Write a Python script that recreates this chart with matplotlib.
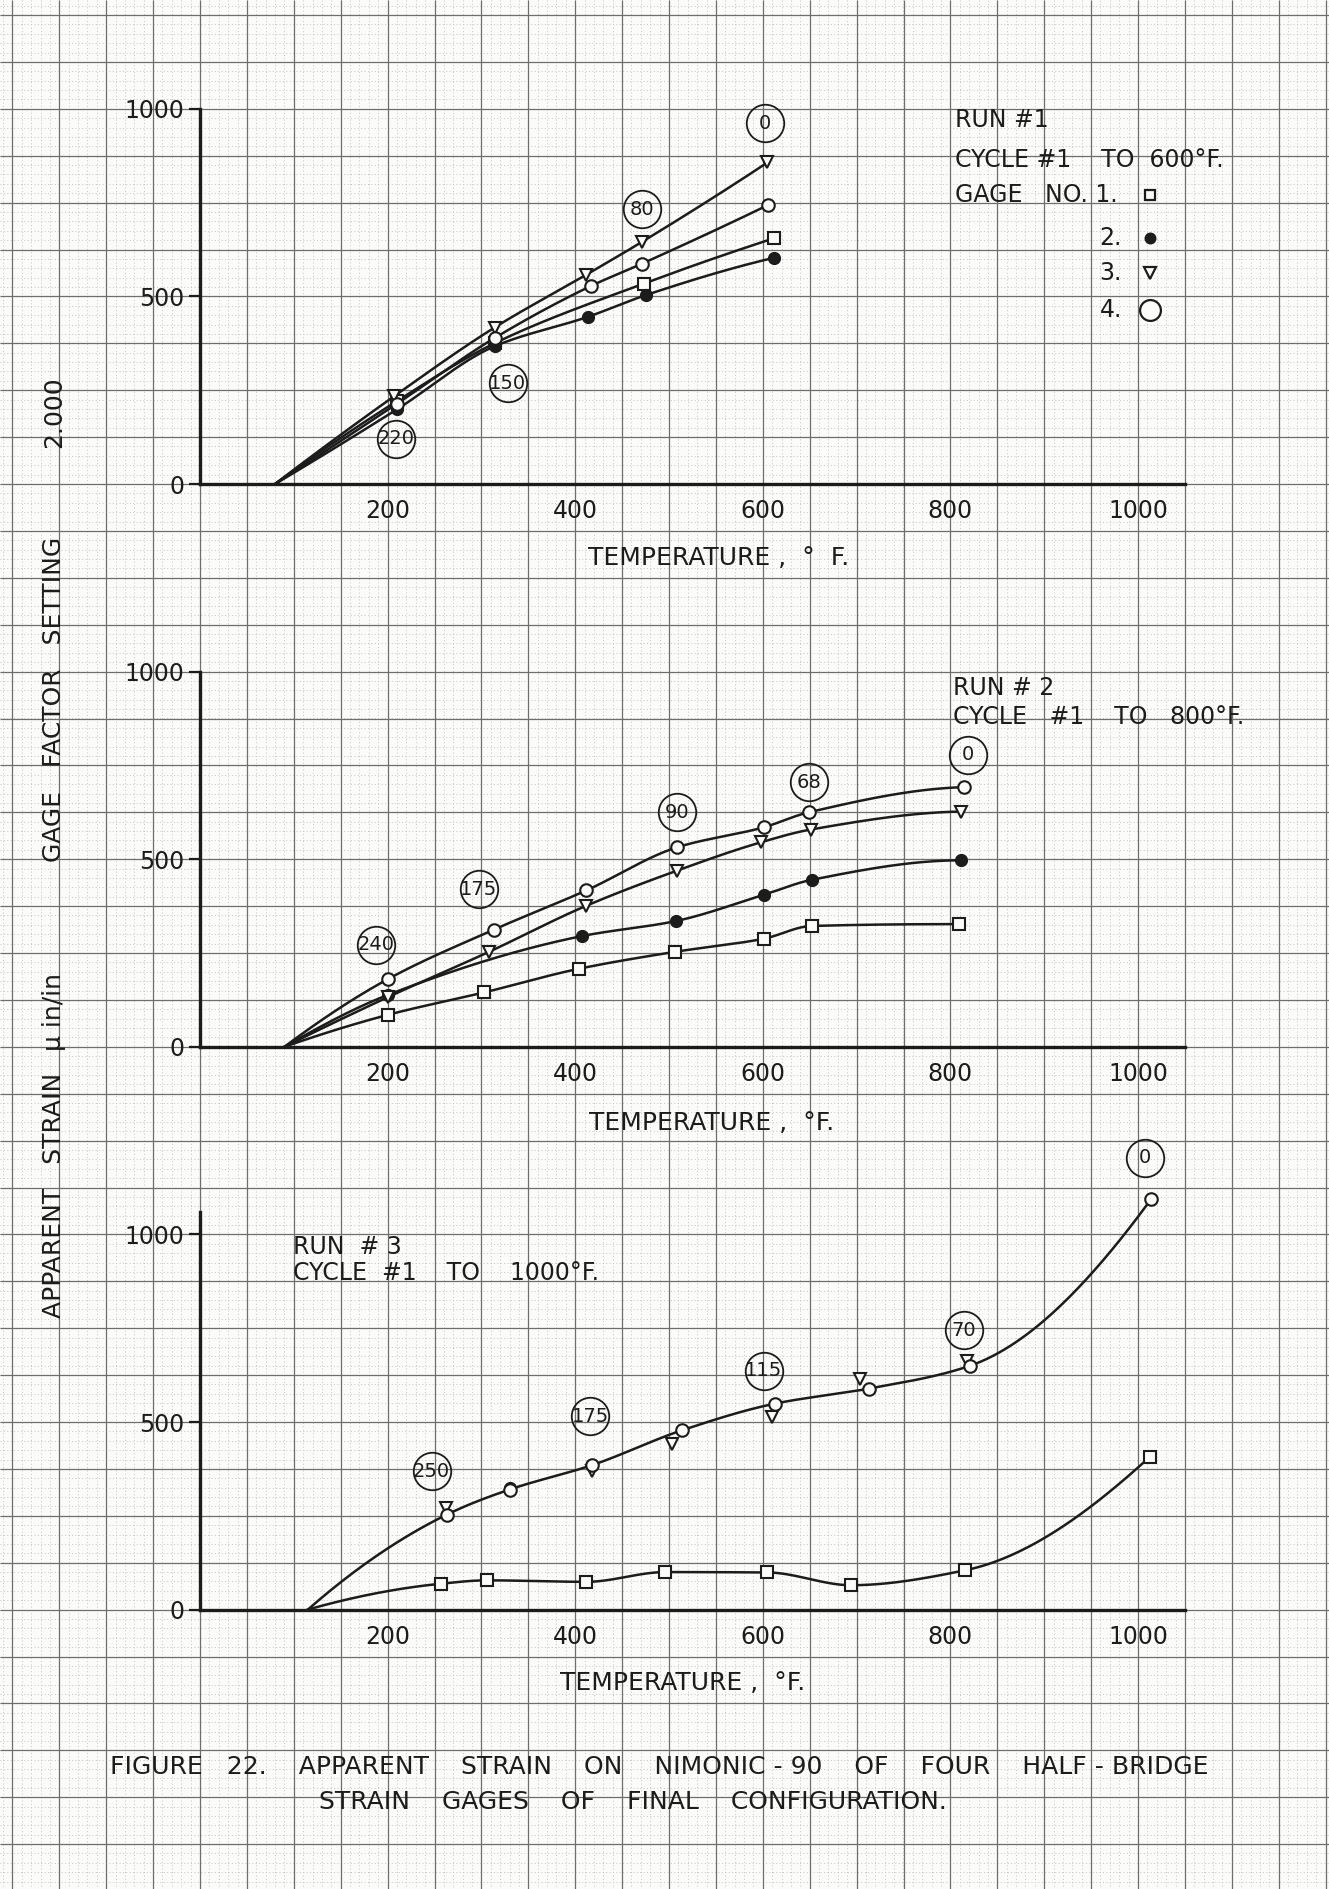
import numpy as np
import matplotlib
matplotlib.use("Agg")
import matplotlib.pyplot as plt

plt.rcParams['font.family'] = ['DejaVu Sans']

INK = '#1c1c1c'
PAPER = '#fbfbfa'

# ---- data (temperature in deg F, apparent strain in micro in/in) ----
# run 1, cycle 1 to 600 F
run1_start = 80
run1_g1_t = [210, 314, 473, 612]
run1_g1_s = [221, 375, 534, 655]
run1_g2_t = [210, 314, 414, 476, 612]
run1_g2_s = [199, 367, 446, 504, 603]
run1_g3_t = [207, 314, 412, 471, 605]
run1_g3_s = [234, 417, 558, 645, 857]
run1_g4_t = [210, 314, 417, 471, 606]
run1_g4_s = [214, 389, 528, 587, 744]
run1_tags = ['220', '150', '80', '0']
run1_tag_t = [209, 328, 471, 602]
run1_tag_s = [121, 268, 732, 962]

# run 2, cycle 1 to 800 F
run2_start = 90
run2_g1_t = [200, 303, 404, 506, 601, 652, 809]
run2_g1_s = [85, 145, 208, 253, 288, 322, 327]
run2_g2_t = [200, 407, 507, 601, 652, 811]
run2_g2_s = [138, 295, 335, 405, 445, 497]
run2_g3_t = [200, 308, 411, 508, 598, 651, 811]
run2_g3_s = [132, 253, 375, 469, 545, 579, 627]
run2_g4_t = [200, 313, 412, 509, 601, 649, 814]
run2_g4_s = [180, 312, 417, 532, 585, 625, 692]
run2_tags = ['240', '175', '90', '68', '0']
run2_tag_t = [188, 297, 509, 649, 819]
run2_tag_s = [272, 420, 625, 705, 779]

# run 3, cycle 1 to 1000 F
run3_start = 115
run3_g1_t = [257, 306, 412, 496, 605, 694, 816, 1013]
run3_g1_s = [69, 78, 74, 100, 99, 65, 105, 408]
run3_g2_t = [330]
run3_g2_s = [325]
run3_g3_t = [262, 418, 503, 610, 704, 818]
run3_g3_s = [271, 370, 442, 513, 615, 663]
run3_g4_t = [263, 330, 418, 514, 613, 713, 821, 1014]
run3_g4_s = [253, 320, 385, 478, 549, 589, 650, 1094]
run3_tags = ['250', '175', '115', '70', '0']
run3_tag_t = [247, 416, 601, 814, 1007]
run3_tag_s = [369, 515, 637, 745, 1204]

x_ticks = [200, 400, 600, 800, 1000]
y_ticks = [0, 500, 1000]


def pchip(x, y, n=300):
    x = np.asarray(x, float)
    y = np.asarray(y, float)
    h = np.diff(x)
    d = np.diff(y) / h
    m = np.zeros_like(x)
    for k in range(1, len(x) - 1):
        if d[k - 1] * d[k] > 0:
            w1 = 2 * h[k] + h[k - 1]
            w2 = h[k] + 2 * h[k - 1]
            m[k] = (w1 + w2) / (w1 / d[k - 1] + w2 / d[k])

    def end(h0, h1, d0, d1):
        mm = ((2 * h0 + h1) * d0 - h0 * d1) / (h0 + h1)
        if np.sign(mm) != np.sign(d0):
            mm = 0.0
        elif np.sign(d0) != np.sign(d1) and abs(mm) > abs(3 * d0):
            mm = 3 * d0
        return mm

    if len(x) > 2:
        m[0] = end(h[0], h[1], d[0], d[1])
        m[-1] = end(h[-1], h[-2], d[-1], d[-2])
    else:
        m[:] = d[0]
    xs = np.linspace(x[0], x[-1], n)
    i = np.clip(np.searchsorted(x, xs) - 1, 0, len(x) - 2)
    t = (xs - x[i]) / h[i]
    ys = ((2 * t**3 - 3 * t**2 + 1) * y[i] + (t**3 - 2 * t**2 + t) * h[i] * m[i]
          + (-2 * t**3 + 3 * t**2) * y[i + 1] + (t**3 - t**2) * h[i] * m[i + 1])
    return xs, ys


# ---- page geometry (pixels) ----
W, H = 1329, 1889
G = 46.9             # one graph-paper square
X0 = 200             # x = 0 deg F
PX = G / 50.0        # px per deg F
PY = G / 125.0       # px per micro-strain
XMAX = 1050

fig = plt.figure(figsize=(W / 100, H / 100), dpi=100)
fig.patch.set_facecolor(PAPER)

bg = fig.add_axes([0, 0, 1, 1])
bg.set_xlim(0, W)
bg.set_ylim(H, 0)
bg.axis('off')
minor_x = np.arange(X0 % (G / 5), W, G / 5)
minor_y = np.arange(484 % (G / 5), H, G / 5)
bg.vlines(minor_x, 0, H, color='#c4c4c4', lw=0.7, linestyles=(0, (1, 2.5)))
bg.hlines(minor_y, 0, W, color='#c4c4c4', lw=0.7, linestyles=(0, (1, 2.5)))
bg.vlines(np.arange(X0 % G, W, G), 0, H, color='#6e6e6e', lw=0.9)
bg.hlines(np.arange(484 % G, H, G), 0, W, color='#6e6e6e', lw=0.9)


def make_panel(y0, ytop):
    ax = fig.add_axes([X0 / W, (H - y0) / H, XMAX * PX / W, ytop * PY / H])
    ax.patch.set_alpha(0)
    ax.set_xlim(0, XMAX)
    ax.set_ylim(0, ytop)
    for s in ['top', 'right']:
        ax.spines[s].set_visible(False)
    for s in ['left', 'bottom']:
        ax.spines[s].set_linewidth(2.4)
        ax.spines[s].set_color(INK)
    ax.set_xticks(x_ticks)
    ax.set_yticks(y_ticks)
    ax.tick_params(axis='x', length=0, pad=11, labelsize=17, labelcolor=INK)
    ax.tick_params(axis='y', length=8, width=1.6, pad=3, labelsize=17,
                   labelcolor=INK, color=INK)
    return ax


def gage_series(ax, start, t, s, marker, filled, curve=True, ms=9):
    if curve:
        xs, ys = pchip([start] + list(t), [0] + list(s))
        ax.plot(xs, ys, color=INK, lw=1.8, clip_on=False, zorder=3)
    ax.plot(t, s, ls='none', marker=marker, ms=ms, mew=1.5, mec=INK,
            mfc=INK if filled else PAPER, clip_on=False, zorder=4)


def tags(ax, labels, tt, ss):
    ax.plot(tt, ss, ls='none', marker='o', ms=27, mfc='none', mec=INK, mew=1.3,
            clip_on=False)
    for lab, t, s in zip(labels, tt, ss):
        ax.text(t, s, lab, ha='center', va='center', fontsize=14, color=INK)


# ---- run 1 ----
ax1 = make_panel(484, 1000)
gage_series(ax1, run1_start, run1_g1_t, run1_g1_s, 's', False)
gage_series(ax1, run1_start, run1_g2_t, run1_g2_s, 'o', True, ms=8)
gage_series(ax1, run1_start, run1_g3_t, run1_g3_s, 'v', False)
gage_series(ax1, run1_start, run1_g4_t, run1_g4_s, 'o', False)
tags(ax1, run1_tags, run1_tag_t, run1_tag_s)
ax1.set_xlabel('TEMPERATURE ,  °  F.', fontsize=18, color=INK)
ax1.xaxis.set_label_coords(553 / XMAX, -0.165)
ax1.text(805, 970, 'RUN #1', fontsize=17, va='center', color=INK)
ax1.text(805, 864, 'CYCLE #1    TO  600°F.', fontsize=17, va='center', color=INK)
ax1.text(805, 770, 'GAGE   NO. 1.', fontsize=17, va='center', color=INK)
for lab, s in zip(['2.', '3.', '4.'], [656, 562, 464]):
    ax1.text(959, s, lab, fontsize=17, va='center', color=INK)
for (mk, fill, ms), s in zip([('s', False, 7), ('o', True, 7), ('v', False, 8), ('o', False, 15)],
                             [770, 656, 562, 464]):
    ax1.plot([1013], [s], ls='none', marker=mk, ms=ms, mew=1.6, mec=INK,
             mfc=INK if fill else PAPER, clip_on=False)

# ---- run 2 ----
ax2 = make_panel(484 + 12 * G, 1000)
gage_series(ax2, run2_start, run2_g1_t, run2_g1_s, 's', False)
gage_series(ax2, run2_start, run2_g2_t, run2_g2_s, 'o', True, ms=8)
gage_series(ax2, run2_start, run2_g3_t, run2_g3_s, 'v', False)
gage_series(ax2, run2_start, run2_g4_t, run2_g4_s, 'o', False)
tags(ax2, run2_tags, run2_tag_t, run2_tag_s)
ax2.set_xlabel('TEMPERATURE ,  °F.', fontsize=18, color=INK)
ax2.xaxis.set_label_coords(545 / XMAX, -0.17)
ax2.text(803, 957, 'RUN # 2', fontsize=17, va='center', color=INK)
ax2.text(803, 880, 'CYCLE   #1    TO   800°F.', fontsize=17, va='center', color=INK)

# ---- run 3 ----
ax3 = make_panel(484 + 24 * G, 1060)
gage_series(ax3, run3_start, run3_g1_t, run3_g1_s, 's', False)
gage_series(ax3, run3_start, run3_g2_t, run3_g2_s, 'o', True, curve=False, ms=8)
gage_series(ax3, run3_start, run3_g3_t, run3_g3_s, 'v', False, curve=False)
gage_series(ax3, run3_start, run3_g4_t, run3_g4_s, 'o', False)
tags(ax3, run3_tags, run3_tag_t, run3_tag_s)
ax3.set_xlabel('TEMPERATURE ,  °F.', fontsize=18, color=INK)
ax3.xaxis.set_label_coords(515 / XMAX, -0.155)
ax3.text(99, 967, 'RUN  # 3', fontsize=17, va='center', color=INK)
ax3.text(99, 896, 'CYCLE  #1    TO    1000°F.', fontsize=17, va='center', color=INK)

# ---- page texts ----
ylabel_parts = ['APPARENT   STRAIN', 'μ in/in', 'GAGE   FACTOR   SETTING', '2.000']
ylabel_y = [1195, 1012, 699, 412]
for lab, y in zip(ylabel_parts, ylabel_y):
    bg.text(54, y, lab, rotation=90, ha='center', va='center', fontsize=18, color=INK)
bg.text(659, 1767, 'FIGURE   22.    APPARENT    STRAIN    ON    NIMONIC - 90    OF    FOUR    HALF - BRIDGE',
        ha='center', va='center', fontsize=18, color=INK)
bg.text(633, 1802, 'STRAIN    GAGES    OF    FINAL    CONFIGURATION.',
        ha='center', va='center', fontsize=18, color=INK)

fig.savefig('out.png', dpi=100, facecolor=fig.get_facecolor())
